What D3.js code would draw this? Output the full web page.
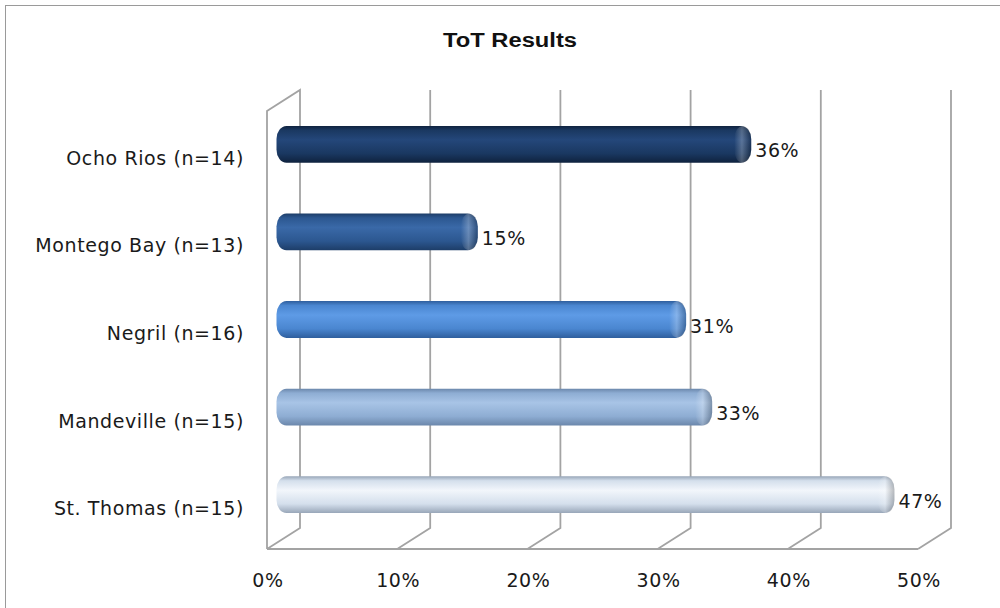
<!DOCTYPE html>
<html>
<head>
<meta charset="utf-8">
<script src="https://cdn.jsdelivr.net/npm/d3@7"></script>
<style>
  body { margin: 0; background: #fff; }
  svg { display: block; }
</style>
</head>
<body>
<div class="chart"></div>
<script>
'use strict';

const categories = ['Ocho Rios (n=14)', 'Montego Bay (n=13)', 'Negril (n=16)', 'Mandeville (n=15)', 'St. Thomas (n=15)'];
const values = [36, 15, 31, 33, 47];
const ticks = [0, 10, 20, 30, 40, 50];
const colors = [
  ['#1a3861', '#24477a', '#0f223e'],
  ['#2c5790', '#3a69a8', '#1d3d68'],
  ['#4a86d0', '#5e9be6', '#2f5f9e'],
  ['#8eadd3', '#a8c4e6', '#6b87ab'],
  ['#d4dfec', '#f2f6fb', '#98a6b8']
];

const W = 1000, H = 608;
const DX = 33, DY = -21;           // depth offset of the back wall
const FONT = "'DejaVu Sans', Verdana, sans-serif";

const svg = d3.select('.chart')
  .append('svg')
    .attr('width', W)
    .attr('height', H);

// outer chart border
svg.append('rect')
  .attr('x', 5.5).attr('y', 5.5)
  .attr('width', 1000).attr('height', 700)
  .attr('fill', 'none')
  .attr('stroke', '#9a9a9a')
  .attr('stroke-width', 1);

svg.append('text')
  .attr('x', 510).attr('y', 47)
  .attr('text-anchor', 'middle')
  .attr('font-family', "'Liberation Sans', Arial, sans-serif")
  .attr('font-weight', 'bold')
  .attr('font-size', 20)
  .attr('textLength', 134)
  .attr('lengthAdjust', 'spacingAndGlyphs')
  .attr('fill', '#111')
  .text('ToT Results');

const x = d3.scaleLinear().domain([0, 50]).range([267, 918]);
const y = d3.scaleBand().domain(categories).range([111, 549]);

const wallTop = y.range()[0], floor = y.range()[1];

// gradients
const defs = svg.append('defs');
colors.forEach((c, i) => {
  const g = defs.append('linearGradient')
    .attr('id', 'bar' + i)
    .attr('x1', 0).attr('y1', 0).attr('x2', 0).attr('y2', 1);
  g.append('stop').attr('offset', '0%').attr('stop-color', c[2]);
  g.append('stop').attr('offset', '12%').attr('stop-color', c[0]);
  g.append('stop').attr('offset', '38%').attr('stop-color', c[1]);
  g.append('stop').attr('offset', '75%').attr('stop-color', c[0]);
  g.append('stop').attr('offset', '100%').attr('stop-color', c[2]);
});
const capGrad = defs.append('linearGradient')
  .attr('id', 'cap')
  .attr('x1', 0).attr('y1', 0).attr('x2', 1).attr('y2', 0);
capGrad.append('stop').attr('offset', '0%').attr('stop-color', '#fff').attr('stop-opacity', 0);
capGrad.append('stop').attr('offset', '45%').attr('stop-color', '#fff').attr('stop-opacity', 0.25);
capGrad.append('stop').attr('offset', '100%').attr('stop-color', '#000').attr('stop-opacity', 0.25);

// walls and gridlines
const grid = svg.append('g')
  .attr('fill', 'none')
  .attr('stroke', '#a3a3a3')
  .attr('stroke-width', 1.8);

// side wall
grid.append('path')
  .attr('d', `M${x(0)},${floor}V${wallTop}L${x(0) + DX},${wallTop + DY}V${floor + DY}L${x(0)},${floor}`);

// front floor edge
grid.append('path')
  .attr('d', `M${x(0)},${floor}H${x(50)}`);

// back verticals + floor diagonals
grid.selectAll('.grid')
  .data(ticks.slice(1))
  .enter()
  .append('path')
  .attr('d', (d) => `M${x(d) + DX},${wallTop + DY}V${floor + DY}L${x(d)},${floor}`);

// tick labels
svg.selectAll('.tick-label')
  .data(ticks)
  .enter()
  .append('text')
  .attr('x', (d) => x(d) + 1)
  .attr('y', 587)
  .attr('text-anchor', 'middle')
  .attr('font-family', FONT)
  .attr('font-size', 19)
  .attr('letter-spacing', 0.6)
  .attr('fill', '#1a1a1a')
  .text((d) => d + '%');

// category labels
svg.selectAll('.cat-label')
  .data(categories)
  .enter()
  .append('text')
  .attr('x', 244)
  .attr('y', (d) => y(d) + y.bandwidth() / 2 + 10)
  .attr('text-anchor', 'end')
  .attr('font-family', FONT)
  .attr('font-size', 19)
  .attr('letter-spacing', 0.6)
  .attr('fill', '#1a1a1a')
  .text((d) => d);

// bars at mid depth
const mx = DX / 2, my = DY / 2;
const barH = y.bandwidth() * 0.42;
const bars = svg.selectAll('.bar')
  .data(categories)
  .enter()
  .append('g')
  .attr('class', 'bar');

bars.append('rect')
  .attr('x', x(0) + mx - 7)
  .attr('y', (d) => y(d) + my + (y.bandwidth() - barH) / 2)
  .attr('width', (d, i) => x(values[i]) - x(0) + 6)
  .attr('height', barH)
  .attr('rx', 10).attr('ry', 13)
  .attr('fill', (d, i) => `url(#bar${i})`);

bars.append('rect')
  .attr('x', (d, i) => x(values[i]) + mx - 18)
  .attr('y', (d) => y(d) + my + (y.bandwidth() - barH) / 2)
  .attr('width', 17)
  .attr('height', barH)
  .attr('rx', 10).attr('ry', 13)
  .attr('fill', 'url(#cap)');

// value labels
svg.selectAll('.value-label')
  .data(categories)
  .enter()
  .append('text')
  .attr('x', (d, i) => x(values[i]) + mx + 3)
  .attr('y', (d) => y(d) + my + y.bandwidth() / 2 + 13)
  .attr('font-family', FONT)
  .attr('font-size', 19)
  .attr('letter-spacing', 0.6)
  .attr('fill', '#1a1a1a')
  .text((d, i) => values[i] + '%');
</script>
</body>
</html>
